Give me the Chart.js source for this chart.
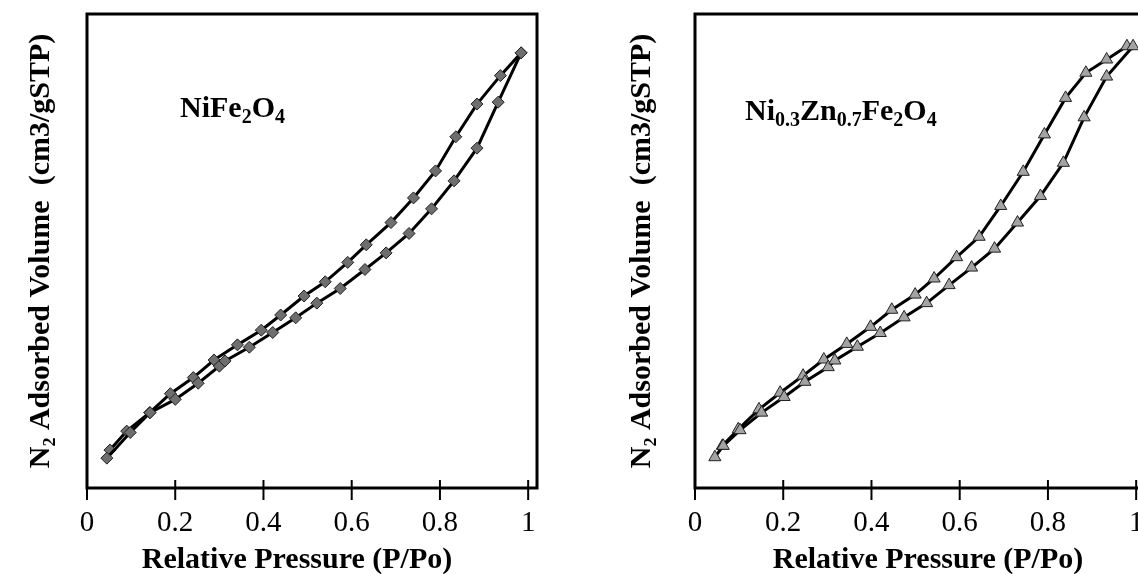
<!DOCTYPE html>
<html>
<head>
<meta charset="utf-8">
<script src="https://cdn.jsdelivr.net/npm/chart.js@4/dist/chart.umd.min.js"></script>
<style>
  html, body { margin: 0; padding: 0; background: #fff; width: 1138px; height: 574px; overflow: hidden; }
  .wrap { position: absolute; top: 0; width: 560px; height: 574px; }
  #w1 { left: 0; }
  #w2 { left: 608px; }
</style>
</head>
<body>
<div class="wrap" id="w1"><canvas id="c1" width="560" height="574"></canvas></div>
<div class="wrap" id="w2"><canvas id="c2" width="560" height="574"></canvas></div>
<script>
// ---- data (y in arbitrary units, axis has no numeric labels) ----
const xTickValues = [0, 0.2, 0.4, 0.6, 0.8, 1];
const xTickLabels = ["0", "0.2", "0.4", "0.6", "0.8", "1"];

// NiFe2O4
const niAdsP = [0.045, 0.098, 0.143, 0.200, 0.252, 0.300, 0.313, 0.368, 0.421, 0.473, 0.521, 0.574, 0.630, 0.678, 0.730, 0.781, 0.832, 0.884, 0.932, 0.984];
const niAdsV = [6.3, 11.7, 15.9, 18.7, 22.1, 25.7, 26.8, 29.7, 32.8, 35.9, 39.0, 42.1, 46.1, 49.6, 53.7, 58.9, 64.8, 71.7, 81.4, 91.8];
const niDesP = [0.984, 0.937, 0.884, 0.836, 0.790, 0.740, 0.689, 0.633, 0.591, 0.540, 0.492, 0.439, 0.395, 0.341, 0.288, 0.241, 0.189, 0.142, 0.090, 0.052];
const niDesV = [91.8, 87.0, 81.0, 74.1, 66.9, 61.2, 56.0, 51.3, 47.6, 43.5, 40.5, 36.5, 33.3, 30.2, 27.0, 23.3, 19.9, 15.9, 12.0, 8.0];

// Ni0.3Zn0.7Fe2O4
const znAdsP = [0.045, 0.064, 0.102, 0.151, 0.202, 0.249, 0.302, 0.317, 0.368, 0.420, 0.474, 0.525, 0.576, 0.627, 0.679, 0.731, 0.783, 0.835, 0.882, 0.933, 0.993];
const znAdsV = [6.5, 8.9, 12.2, 15.9, 19.2, 22.4, 25.5, 26.9, 29.8, 32.7, 36.0, 39.0, 42.8, 46.5, 50.5, 56.0, 61.6, 68.6, 78.2, 86.8, 93.2];
const znDesP = [0.979, 0.933, 0.886, 0.840, 0.792, 0.744, 0.693, 0.644, 0.593, 0.542, 0.499, 0.446, 0.398, 0.344, 0.292, 0.245, 0.193, 0.145, 0.098, 0.062];
const znDesV = [93.2, 90.4, 87.6, 82.3, 74.6, 66.7, 59.5, 53.0, 48.7, 44.2, 40.8, 37.6, 34.0, 30.4, 27.1, 23.7, 20.1, 16.6, 12.4, 8.9];

const yTitle = "N\u2082 Adsorbed Volume  (cm3/gSTP)";
const xTitle = "Relative Pressure (P/Po)";

const SERIF = "'Liberation Serif', 'DejaVu Serif', serif";

function pts(xs, ys) { return xs.map((x, i) => ({ x: x, y: ys[i] })); }

// label segments: [text, isSubscript]
const label1 = [["NiFe", false], ["2", true], ["O", false], ["4", true]];
const label2 = [["Ni", false], ["0.3", true], ["Zn", false], ["0.7", true], ["Fe", false], ["2", true], ["O", false], ["4", true]];

const framePlugin = {
  id: 'frame',
  beforeDatasetsDraw(chart) {
    const { ctx, chartArea: { left, top, right, bottom }, scales: { x } } = chart;
    const o = chart.options.plugins.frame;
    ctx.save();
    ctx.strokeStyle = '#000';
    ctx.lineWidth = 3;
    ctx.strokeRect(left, top, right - left, bottom - top);
    ctx.lineWidth = 2;
    xTickValues.forEach(v => {
      const px = x.getPixelForValue(v);
      ctx.beginPath();
      ctx.moveTo(px, bottom - 8);
      ctx.lineTo(px, bottom + 12);
      ctx.stroke();
    });
    // x axis title
    ctx.fillStyle = '#000';
    ctx.font = `bold 30px ${SERIF}`;
    ctx.textAlign = 'center';
    ctx.textBaseline = 'alphabetic';
    ctx.fillText(xTitle, left + o.titleDx, 568);
    // sample label
    let cx = left + o.dx;
    const by = top + o.dy;
    ctx.textAlign = 'left';
    o.segs.forEach(([t, sub]) => {
      ctx.font = sub ? `bold 20px ${SERIF}` : `bold 30px ${SERIF}`;
      ctx.fillText(t, cx, sub ? by + 6 : by);
      cx += ctx.measureText(t).width;
    });
    ctx.restore();
  }
};

function makeChart(id, ads, des, shape, fill, radius, segs, dx, dy, titleDx, yPad) {
  const common = {
    showLine: true, borderColor: '#000', borderWidth: 3, tension: 0,
    pointStyle: shape, pointRadius: radius, pointHoverRadius: radius,
    pointBackgroundColor: fill, pointBorderColor: '#222', pointBorderWidth: 1, fill: false
  };
  return new Chart(document.getElementById(id), {
    type: 'scatter',
    data: {
      datasets: [
        Object.assign({ label: 'Adsorption', data: ads }, common),
        Object.assign({ label: 'Desorption', data: des }, common)
      ]
    },
    options: {
      responsive: false, animation: false, devicePixelRatio: 1,
      layout: { padding: { top: 14, right: 23, left: 0, bottom: 0 } },
      plugins: { legend: { display: false }, tooltip: { enabled: false },
                 frame: { segs: segs, dx: dx, dy: dy, titleDx: titleDx } },
      scales: {
        x: {
          type: 'linear', min: 0, max: 1.02,
          grid: { display: false, drawTicks: false },
          border: { display: false },
          afterBuildTicks: s => { s.ticks = xTickValues.map(v => ({ value: v })); },
          afterFit: s => { s.height = 86; },
          ticks: {
            color: '#000', padding: 18, maxRotation: 0, autoSkip: false,
            font: { family: SERIF, size: 29 },
            callback: (v) => { const i = xTickValues.indexOf(v); return i >= 0 ? xTickLabels[i] : ''; }
          },
          title: { display: false }
        },
        y: {
          type: 'linear', min: 0, max: 100,
          grid: { display: false, drawTicks: false },
          border: { display: false },
          ticks: { display: false },
          afterFit: s => { s.width = 87; },
          title: { display: true, text: yTitle, color: '#000', padding: { top: yPad, bottom: 0 },
                   font: { family: SERIF, size: 30, weight: 'bold', lineHeight: 1 } }
        }
      }
    },
    plugins: [framePlugin]
  });
}

makeChart('c1', pts(niAdsP, niAdsV), pts(niDesP, niDesV), 'rectRot', '#6e6e6e', 6, label1, 93, 103, 210, 26);
makeChart('c2', pts(znAdsP, znAdsV), pts(znDesP, znDesV), 'triangle', '#a3a3a3', 7, label2, 50, 106, 233, 19);
</script>
</body>
</html>
